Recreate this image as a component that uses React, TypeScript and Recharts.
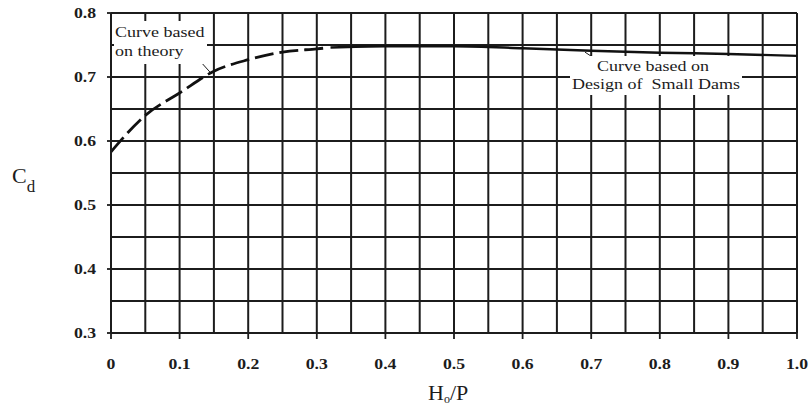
import React from "react";
import { LineChart, Line, XAxis, YAxis, ReferenceLine } from "recharts";

const theoryH = [0, 0.05, 0.1, 0.15, 0.2, 0.25, 0.3, 0.31];
const theoryCd = [0.583, 0.64, 0.675, 0.709, 0.727, 0.739, 0.744, 0.745];
const damsH = [0.32, 0.4, 0.5, 0.6, 0.7, 0.8, 0.9, 1.0];
const damsCd = [0.746, 0.748, 0.748, 0.745, 0.741, 0.738, 0.736, 0.733];

const xTicks = [0, 0.1, 0.2, 0.3, 0.4, 0.5, 0.6, 0.7, 0.8, 0.9, 1.0];
const yTicks = [0.3, 0.4, 0.5, 0.6, 0.7, 0.8];
const xGrid = [0, 0.05, 0.1, 0.15, 0.2, 0.25, 0.3, 0.35, 0.4, 0.45, 0.5, 0.55, 0.6, 0.65, 0.7, 0.75, 0.8, 0.85, 0.9, 0.95, 1.0];
const yGrid = [0.3, 0.35, 0.4, 0.45, 0.5, 0.55, 0.6, 0.65, 0.7, 0.75, 0.8];

const theoryData = theoryH.map((h, i) => ({ h, cd: theoryCd[i] }));
const damsData = damsH.map((h, i) => ({ h, cd: damsCd[i] }));

const leftLeader = [{ x: 0.1224, y: 0.7337 }, { x: 0.1443, y: 0.7076 }];
const rightLeader = [{ x: 0.691, y: 0.7388 }, { x: 0.7055, y: 0.7286 }];

const FONT = "'Liberation Serif', 'DejaVu Serif', serif";
const INK = "#1c1c1c";

const fmtX = (v: number) => (v === 0 ? "0" : v.toFixed(1));
const fmtY = (v: number) => v.toFixed(1);

const XTick = (props: any) => {
  const { x, y, payload } = props;
  return (
    <text
      transform={`translate(${x},${y}) scale(1.18,1)`}
      x={0}
      y={0}
      dy="0.71em"
      textAnchor="middle"
      fill={INK}
      fontFamily={FONT}
      fontSize={15}
      fontWeight="bold"
    >
      {fmtX(payload.value)}
    </text>
  );
};

const YTick = (props: any) => {
  const { x, y, payload } = props;
  return (
    <text
      transform={`translate(${x},${y}) scale(1.18,1)`}
      x={0}
      y={0}
      dy="0.355em"
      textAnchor="end"
      fill={INK}
      fontFamily={FONT}
      fontSize={15}
      fontWeight="bold"
    >
      {fmtY(payload.value)}
    </text>
  );
};

const noteLine = (text: string, left: number, top: number) => (
  <div
    style={{
      position: "absolute",
      left,
      top,
      fontFamily: FONT,
      fontSize: 15,
      lineHeight: "15px",
      color: INK,
      whiteSpace: "pre",
      transform: "scaleX(1.2)",
      transformOrigin: "left top",
    }}
  >
    {text}
  </div>
);

export default function App() {
  return (
    <div style={{ position: "absolute", left: 0, top: 0, width: 809, height: 406, background: "#fff" }}>
      <LineChart
        width={809}
        height={406}
        margin={{ top: 13, right: 12, left: 11, bottom: 0 }}
      >
        {xGrid.map((v) => (
          <ReferenceLine key={"gx" + v} x={v} stroke={INK} strokeWidth={2} />
        ))}
        {yGrid.map((v) => (
          <ReferenceLine key={"gy" + v} y={v} stroke={INK} strokeWidth={2} />
        ))}
        <XAxis
          type="number"
          dataKey="h"
          domain={[0, 1]}
          ticks={xTicks}
          tickFormatter={fmtX}
          allowDataOverflow
          height={73}
          tickSize={6}
          tickMargin={19}
          axisLine={{ stroke: INK, strokeWidth: 2 }}
          tickLine={{ stroke: INK, strokeWidth: 1.8 }}
          tick={<XTick />}
          label={{
            content: () => (
              <text x={428} y={400} fontFamily={FONT} fontSize={22} fill={INK}>
                <tspan>H</tspan>
                <tspan dy={3} fontSize={12}>o</tspan>
                <tspan dy={-3}>/P</tspan>
              </text>
            ),
          }}
        />
        <YAxis
          type="number"
          domain={[0.3, 0.8]}
          ticks={yTicks}
          tickFormatter={fmtY}
          allowDataOverflow
          width={100}
          tickSize={4}
          tickMargin={11}
          axisLine={{ stroke: INK, strokeWidth: 2 }}
          tickLine={{ stroke: INK, strokeWidth: 1.8 }}
          tick={<YTick />}
          label={{
            content: () => (
              <text x={12} y={183} fontFamily={FONT} fontSize={22} fill={INK}>
                <tspan>C</tspan>
                <tspan dy={9} fontSize={17}>d</tspan>
              </text>
            ),
          }}
        />
        <ReferenceLine segment={leftLeader} stroke={INK} strokeWidth={1} />
        <ReferenceLine segment={rightLeader} stroke={INK} strokeWidth={1} />
        <Line
          data={theoryData}
          dataKey="cd"
          type="monotone"
          stroke="#111"
          strokeWidth={2.8}
          strokeDasharray="19 6"
          dot={false}
          isAnimationActive={false}
        />
        <Line
          data={damsData}
          dataKey="cd"
          type="monotone"
          stroke="#111"
          strokeWidth={2.4}
          dot={false}
          isAnimationActive={false}
        />
      </LineChart>
      <div style={{ position: "absolute", left: 114, top: 21, width: 93, height: 43, background: "#fff" }} />
      {noteLine("Curve based", 115, 25)}
      {noteLine("on theory", 115, 44)}
      <div style={{ position: "absolute", left: 570, top: 56, width: 172, height: 39, background: "#fff" }} />
      {noteLine("Curve based on", 597, 59)}
      {noteLine("Design of  Small Dams", 572, 77)}
    </div>
  );
}
